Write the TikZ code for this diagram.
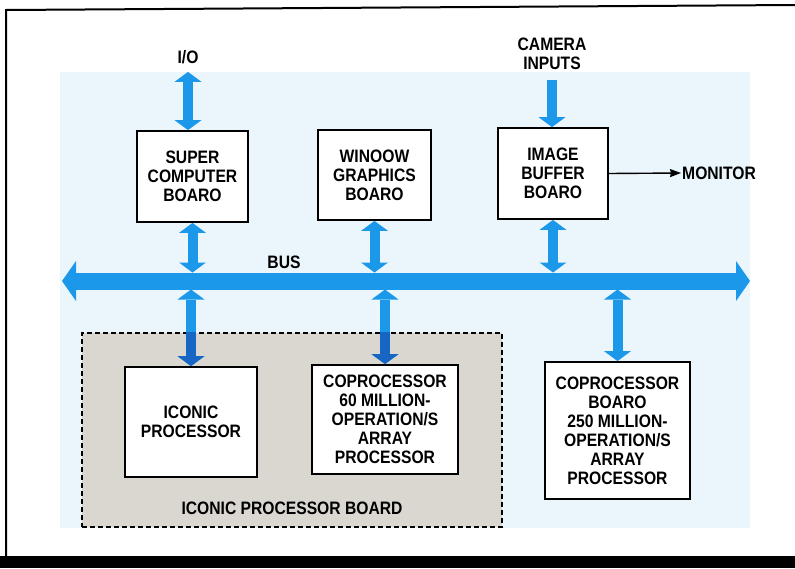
\documentclass[tikz,border=0pt]{standalone}
\usepackage{fontspec}
\setmainfont{Liberation Sans}[FakeStretch=0.87]
\usepackage{xcolor}
\usetikzlibrary{positioning, arrows.meta}
\definecolor{busblue}{HTML}{1C98EA}
\definecolor{deepblue}{HTML}{1766C4}
\definecolor{paleblue}{HTML}{EAF6FB}
\definecolor{boardgray}{HTML}{D9D7CF}
\newcommand\lbl{\bfseries\fontsize{18}{19}\selectfont}

\begin{document}
\begin{tikzpicture}[x=1pt, y=-1pt,
    board/.style={draw, line width=1.8pt, fill=white, align=center, font=\lbl, inner sep=0pt},
    tag/.style={font=\lbl, align=center, inner sep=1pt},
    link/.style={line width=10pt,
        {Triangle[width=27pt,length=10pt,line width=0pt]}-{Triangle[width=27pt,length=10pt,line width=0pt]}},
    feed/.style={line width=10pt, -{Triangle[width=27pt,length=10pt,line width=0pt]}}]

\useasboundingbox (0,0) rectangle (795,568);

% page frame
\fill[paleblue] (60,72) rectangle (750,528);
\draw[line width=2pt] (795,5) -- (6,10) -- (6,557);
\fill (0,556) rectangle (795,568);

% boards on top
\node[board, minimum width=111pt, minimum height=91pt] (scb) at (192.5,176.5) {SUPER\\COMPUTER\\BOARO};
\node[board, minimum width=113pt, minimum height=90pt] (wgb) at (374.5,175) {WINOOW\\GRAPHICS\\BOARO};
\node[board, minimum width=110pt, minimum height=91pt] (ibb) at (553,173.5) {IMAGE\\BUFFER\\BOARO};

% iconic processor board
\node[draw, line width=1.2pt, dash pattern=on 5pt off 3pt, fill=boardgray,
      minimum width=420pt, minimum height=194pt] (ipb) at (292,430) {};
\node[board, minimum width=132pt, minimum height=110pt] (icp) at (191,422) {ICONIC\\PROCESSOR};
\node[board, minimum width=146pt, minimum height=109pt] (cop) at (385,419.5)
    {COPROCESSOR\\60 MILLION-\\OPERATION/S\\ARRAY\\PROCESSOR};
\node[board, minimum width=145pt, minimum height=137pt] (cpb) at (617.5,430.5)
    {COPROCESSOR\\BOARO\\250 MILLION-\\OPERATION/S\\ARRAY\\PROCESSOR};

% labels
\node[tag] (io) at (188,57) {I/O};
\node[tag] (cam) at (552,54) {CAMERA\\INPUTS};
\node[tag] (busl) at (284,262) {BUS};
\node[tag, anchor=west] (mon) at (681,173) {MONITOR};
\node[tag] (ipbl) at (292,508) {ICONIC PROCESSOR BOARD};

% bus
\coordinate (busW) at (62,281);
\coordinate (busE) at (750,281);
\coordinate (busN) at (0,272.5);
\coordinate (busS) at (0,289.5);
\draw[busblue, line width=17pt,
      {Triangle[width=40pt,length=14pt,line width=0pt]}-{Triangle[width=40pt,length=14pt,line width=0pt]}]
    (busW) -- (busE);

% connectors
\draw[link, busblue, shorten <=7pt] (io.south) -- (io.south |- scb.north);
\draw[feed, busblue, shorten <=9pt] (cam.south) -- (cam.south |- ibb.north);
\draw[line width=1.4pt, -{Stealth[length=11pt,width=8pt,inset=1pt]}] (ibb.east) -- (mon.west);

\draw[link, busblue] (scb.south) -- (scb.south |- busN);
\draw[link, busblue] (wgb.south) -- (wgb.south |- busN);
\draw[link, busblue] (ibb.south) -- (ibb.south |- busN);

\draw[link, busblue] (icp.north |- busS) -- (icp.north);
\draw[link, busblue] (cop.north |- busS) -- (cop.north);
\draw[link, busblue] (cpb.north |- busS) -- (cpb.north);

% darker inside the grey board
\begin{scope}
    \clip (ipb.north west) rectangle (ipb.south east);
    \draw[link, deepblue] (icp.north |- busS) -- (icp.north);
    \draw[link, deepblue] (cop.north |- busS) -- (cop.north);
\end{scope}

\end{tikzpicture}
\end{document}
